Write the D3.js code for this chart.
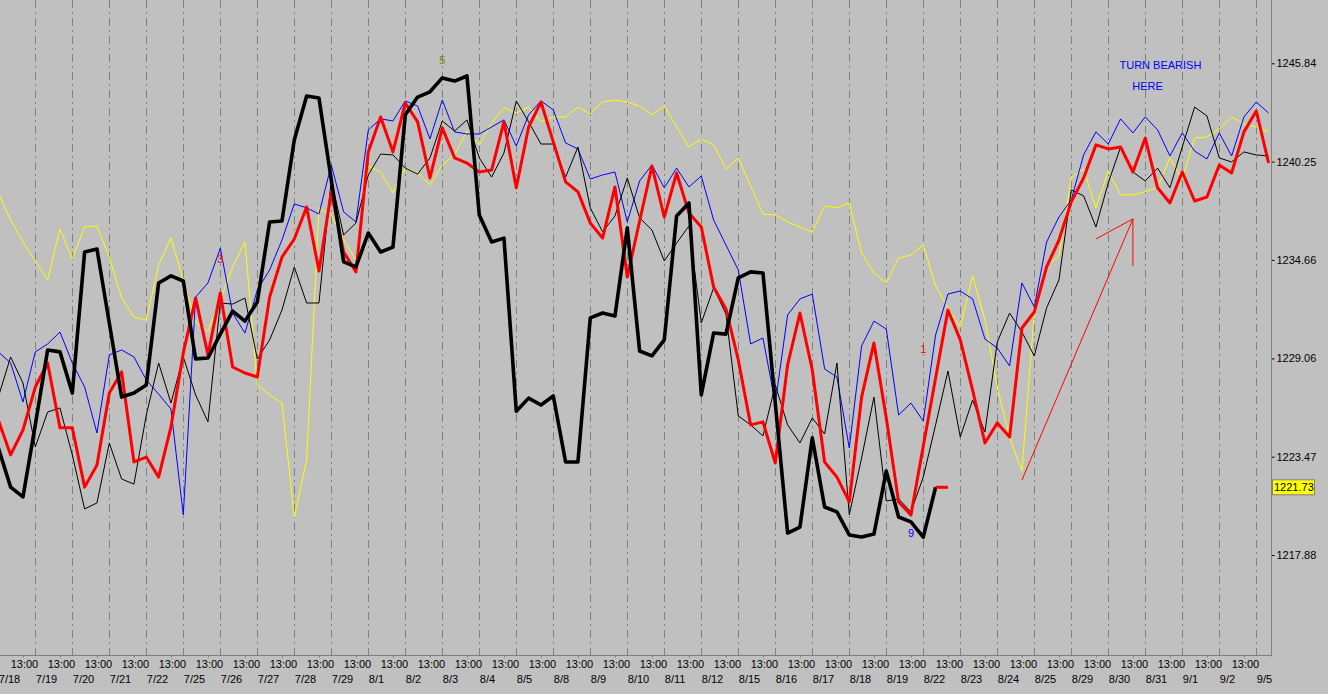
<!DOCTYPE html>
<html><head><meta charset="utf-8">
<script src="https://cdn.jsdelivr.net/npm/d3@7"></script>
<style>
html,body{margin:0;padding:0;background:#c0c0c0;overflow:hidden}
text{font-family:"Liberation Sans",Arial,sans-serif;font-size:11px}
</style>
</head><body><svg id="c" width="1328" height="694"></svg>
<script>
// ---------- data ----------
const dates = ["7/18","7/19","7/20","7/21","7/22","7/25","7/26","7/27","7/28","7/29","8/1","8/2","8/3","8/4","8/5","8/8","8/9","8/10","8/11","8/12","8/15","8/16","8/17","8/18","8/19","8/22","8/23","8/24","8/25","8/29","8/30","8/31","9/1","9/2","9/5"];
const timeOfDay = "13:00";
const priceTicks = [1217.88, 1223.47, 1229.06, 1234.66, 1240.25, 1245.84];
const lastPrice = 1221.73;

const thickBlack = [1223.97,1221.74,1221.18,1225.28,1229.54,1229.43,1227.09,1235.11,1235.28,1231.07,
1226.86,1227.09,1227.55,1233.35,1233.75,1233.46,1229.03,1229.08,1230.44,1231.75,
1231.18,1232.27,1236.82,1236.87,1241.48,1243.98,1243.87,1239.21,1234.55,1234.26,
1236.19,1235.11,1235.39,1242.91,1243.92,1244.22,1245.01,1244.83,1245.12,1237.22,
1235.68,1235.90,1226.06,1226.80,1226.41,1226.92,1223.17,1223.17,1231.36,1231.64,
1231.47,1236.48,1229.48,1229.20,1230.11,1237.16,1237.90,1226.98,1230.50,1230.44,
1233.64,1233.98,1233.92,1226.52,1219.13,1219.47,1224.54,1220.61,1220.33,1219.02,
1218.90,1219.07,1222.65,1220.04,1219.76,1218.90,1221.73,1221.73];

const redSeries = [1225.56,1223.57,1224.99,1227.43,1228.80,1225.11,1225.11,1221.74,1223.00,1227.09,
1228.29,1223.17,1223.45,1222.31,1225.16,1229.37,1232.49,1229.26,1232.78,1228.57,
1228.23,1228.00,1232.55,1234.82,1235.85,1237.67,1234.03,1238.53,1235.11,1233.98,
1240.80,1242.79,1240.80,1243.58,1242.51,1239.32,1242.17,1240.46,1240.17,1239.66,
1239.77,1242.51,1238.76,1242.22,1243.64,1241.37,1239.10,1238.53,1236.76,1235.90,
1238.81,1233.69,1236.87,1240.00,1237.10,1239.60,1237.33,1236.53,1233.12,1231.87,
1228.97,1225.28,1225.45,1223.11,1228.69,1231.64,1228.40,1223.17,1222.31,1220.90,
1226.86,1229.94,1225.67,1220.90,1220.16,1224.08,1227.95,1231.81,1230.11,1227.26,
1224.25,1225.39,1224.59,1230.79,1231.70,1234.26,1235.79,1237.96,1239.32,1241.20,
1240.97,1241.08,1239.66,1241.59,1238.76,1237.90,1239.66,1238.01,1238.24,1240.06,
1239.60,1241.94,1243.13,1240.17];

const blueSeries = [1229.43,1228.80,1226.58,1229.43,1229.88,1230.56,1228.80,1227.43,1224.82,1229.26,
1229.54,1229.14,1227.83,1227.03,1226.18,1220.16,1232.55,1233.35,1235.33,1231.64,
1230.50,1232.95,1234.09,1235.79,1237.84,1237.62,1237.27,1240.06,1237.39,1236.82,
1242.05,1242.68,1242.56,1243.70,1243.41,1241.54,1243.75,1241.94,1241.82,1241.82,
1242.22,1242.62,1241.14,1242.91,1243.70,1243.19,1241.31,1240.97,1239.26,1239.49,
1239.66,1236.82,1239.15,1240.06,1238.76,1239.88,1238.81,1239.43,1236.93,1235.51,
1234.09,1229.88,1230.22,1226.52,1231.53,1232.44,1232.72,1228.46,1228.00,1223.97,
1229.77,1231.18,1230.73,1225.84,1226.52,1225.50,1230.39,1232.72,1232.89,1232.44,
1230.16,1229.65,1228.63,1233.35,1231.98,1235.68,1237.10,1238.07,1240.63,1241.94,
1241.25,1242.68,1241.88,1242.79,1242.05,1240.57,1241.88,1240.85,1240.40,1241.88,
1240.57,1242.79,1243.64,1243.01];

const thinBlack = [1226.86,1229.14,1227.66,1224.02,1226.01,1226.24,1223.57,1220.50,1220.84,1224.25,
1222.20,1221.91,1225.84,1228.80,1226.52,1229.14,1226.98,1225.45,1232.21,1232.15,
1232.49,1229.03,1230.11,1231.81,1234.26,1232.21,1232.21,1239.21,1236.08,1236.76,
1239.49,1240.68,1240.63,1239.88,1239.54,1240.46,1242.56,1241.99,1242.62,1240.46,
1239.37,1240.74,1243.70,1242.51,1241.25,1241.25,1239.37,1241.08,1237.62,1236.25,
1237.16,1239.32,1237.05,1236.36,1234.60,1235.62,1236.59,1231.07,1233.07,1231.58,
1225.79,1225.28,1224.65,1227.55,1225.28,1224.25,1225.67,1224.76,1228.80,1220.16,
1223.40,1226.86,1220.95,1221.07,1220.33,1222.31,1225.28,1228.34,1224.59,1226.69,
1224.87,1229.99,1231.64,1230.56,1229.20,1231.93,1233.52,1238.64,1238.30,1236.53,
1239.04,1241.08,1239.66,1239.15,1239.88,1238.76,1241.08,1243.35,1242.85,1240.46,
1240.23,1240.80,1240.63,1240.57];

const yellowSeries = [1238.47,1236.93,1235.68,1234.60,1233.52,1236.42,1234.72,1236.53,1236.59,1234.82,
1232.49,1231.41,1231.24,1234.37,1235.90,1233.52,1231.13,1230.62,1232.38,1234.26,
1235.68,1227.55,1226.98,1226.52,1220.04,1223.28,1237.62,1237.22,1235.79,1234.66,
1240.00,1239.66,1238.47,1239.88,1239.60,1238.93,1240.06,1240.63,1241.99,1241.20,
1242.45,1243.30,1243.02,1243.35,1242.51,1242.79,1242.79,1243.35,1242.96,1243.64,
1243.75,1243.64,1243.41,1242.91,1243.41,1242.22,1241.08,1241.54,1241.20,1239.83,
1240.46,1238.87,1237.27,1237.22,1236.82,1236.53,1236.25,1237.73,1237.62,1237.90,
1235.05,1233.92,1233.35,1234.77,1234.94,1235.51,1233.18,1231.93,1230.84,1233.75,
1231.24,1227.43,1224.59,1222.65,1231.70,1234.32,1234.88,1239.32,1239.83,1237.62,
1239.71,1238.36,1238.36,1238.53,1238.81,1240.46,1239.26,1241.59,1241.65,1242.11,
1242.79,1242.39,1242.22,1241.94];

// hand-drawn annotations, in (bar index, price)
const arrowShaft = [[83,1222.14],[92,1236.99]];
const arrowHead = [[89,1235.85],[92,1236.99],[92,1234.32]];
const waveMarks = [
  {text:"3", i:18, v:1234.72},
  {text:"5", i:36, v:1246.02},
  {text:"1", i:75, v:1229.60},
  {text:"9", i:74, v:1219.14}
];
const noteLines = [
  {text:"TURN BEARISH", i:94.23, v:1245.74},
  {text:"HERE", i:93.18, v:1244.55}
];

// ---------- drawing ----------
const W = 1328, H = 694;
const plotRight = 1271, plotBottom = 656;
const svg = d3.select("#c");
svg.append("rect").attr("width", W).attr("height", H).attr("fill", "#c0c0c0");

const x = d3.scaleLinear().domain([0, 103]).range([-1.7, 1268.6]);
const y = d3.scaleLinear().domain([1217.88, 1245.84]).range([555, 63.3]);

svg.append("clipPath").attr("id", "plotclip")
  .append("rect").attr("x", 0).attr("y", 0).attr("width", plotRight).attr("height", plotBottom);

// day separators
svg.append("g").selectAll("line").data(dates.map((d, k) => k).filter(k => k > 0))
  .join("line")
  .attr("x1", k => Math.round(x(3 * k)) + 0.5).attr("x2", k => Math.round(x(3 * k)) + 0.5)
  .attr("y1", 0).attr("y2", plotBottom)
  .attr("stroke", "#808080").attr("stroke-width", 1)
  .attr("stroke-dasharray", "8,4,2,4");

const plot = svg.append("g").attr("clip-path", "url(#plotclip)");
const line = d3.line().x((d, i) => x(i)).y(d => y(d));

function drawSeries(vals, color, width) {
  plot.append("path").datum(vals).attr("d", line)
    .attr("fill", "none").attr("stroke", color).attr("stroke-width", width)
    .attr("stroke-linejoin", "round");
}
drawSeries(yellowSeries, "#ffff00", 1);
drawSeries(blueSeries, "#0000ff", 1);
drawSeries(thinBlack, "#000000", 1);
drawSeries(redSeries, "#ff0000", 3);
drawSeries(thickBlack.slice(0, thickBlack.length - 1), "#000000", 3.6);
// final bar of the heavy series is drawn in red
plot.append("path")
  .datum(thickBlack.map((v, i) => [i, v]).slice(thickBlack.length - 2))
  .attr("d", d3.line().x(d => x(d[0])).y(d => y(d[1])))
  .attr("fill", "none").attr("stroke", "#ff0000").attr("stroke-width", 3);

// arrow annotation
const ptLine = d3.line().x(d => x(d[0])).y(d => y(d[1]));
plot.append("path").datum(arrowShaft).attr("d", ptLine)
  .attr("fill", "none").attr("stroke", "#ff0000").attr("stroke-width", 1);
plot.append("path").datum(arrowHead).attr("d", ptLine)
  .attr("fill", "none").attr("stroke", "#ff0000").attr("stroke-width", 1);

// wave labels
const markColor = {"3":"#ff0000","5":"#808000","1":"#ff0000","9":"#0000ff"};
plot.selectAll("text.mark").data(waveMarks).join("text")
  .attr("class", "mark")
  .attr("x", d => x(d.i)).attr("y", d => y(d.v)).attr("dy", "0.36em")
  .attr("text-anchor", "middle").attr("fill", d => markColor[d.text])
  .text(d => d.text);

plot.selectAll("text.note").data(noteLines).join("text")
  .attr("class", "note")
  .attr("x", d => x(d.i)).attr("y", d => y(d.v)).attr("dy", "0.36em")
  .attr("text-anchor", "middle").attr("fill", "#0000ff")
  .text(d => d.text);

// right price axis
const yAxis = d3.axisRight(y).tickValues(priceTicks).tickSize(3).tickPadding(2)
  .tickFormat(d3.format(".2f"));
const gy = svg.append("g").attr("transform", `translate(${plotRight + 0.5},0)`).call(yAxis);
gy.select(".domain").remove();
gy.selectAll("line").attr("stroke", "#000");
gy.selectAll("text").attr("fill", "#000").style("font-size", "11px")
  .style("font-family", "'Liberation Sans',Arial,sans-serif");

// axis frame lines
svg.append("line").attr("x1", plotRight + 0.5).attr("x2", plotRight + 0.5)
  .attr("y1", 0).attr("y2", plotBottom + 0.5).attr("stroke", "#808080");
svg.append("line").attr("x1", 0).attr("x2", plotRight + 0.5)
  .attr("y1", plotBottom - 0.5).attr("y2", plotBottom - 0.5).attr("stroke", "#808080");

// last price marker
const lp = svg.append("g").attr("transform", `translate(${plotRight + 1},${y(lastPrice)})`);
lp.append("rect").attr("x", 0.5).attr("y", -7.5).attr("width", 42).attr("height", 15)
  .attr("fill", "#ffff00").attr("stroke", "#808080");
lp.append("text").attr("x", 2).attr("y", 0).attr("dy", "0.36em").attr("fill", "#000")
  .text(d3.format(".2f")(lastPrice));

// bottom time axis (13:00 bar of each full session; the last session is partial)
const xAxis = d3.axisBottom(x)
  .tickValues(dates.slice(0, dates.length - 1).map((d, k) => 3 * k + 2))
  .tickSize(2).tickPadding(3).tickFormat(() => timeOfDay);
const gx = svg.append("g").attr("transform", `translate(0,${plotBottom - 0.5})`).call(xAxis);
gx.select(".domain").remove();
gx.selectAll("line").attr("stroke", "#808080");
gx.selectAll("text").attr("fill", "#000").attr("dx", "1")
  .style("font-size", "11px").style("font-family", "'Liberation Sans',Arial,sans-serif");

svg.append("g").selectAll("text").data(dates).join("text")
  .attr("x", (d, k) => x(3 * k) + 0.5).attr("y", 683)
  .attr("text-anchor", "start").attr("fill", "#000")
  .text(d => d);
</script>
</body></html>
